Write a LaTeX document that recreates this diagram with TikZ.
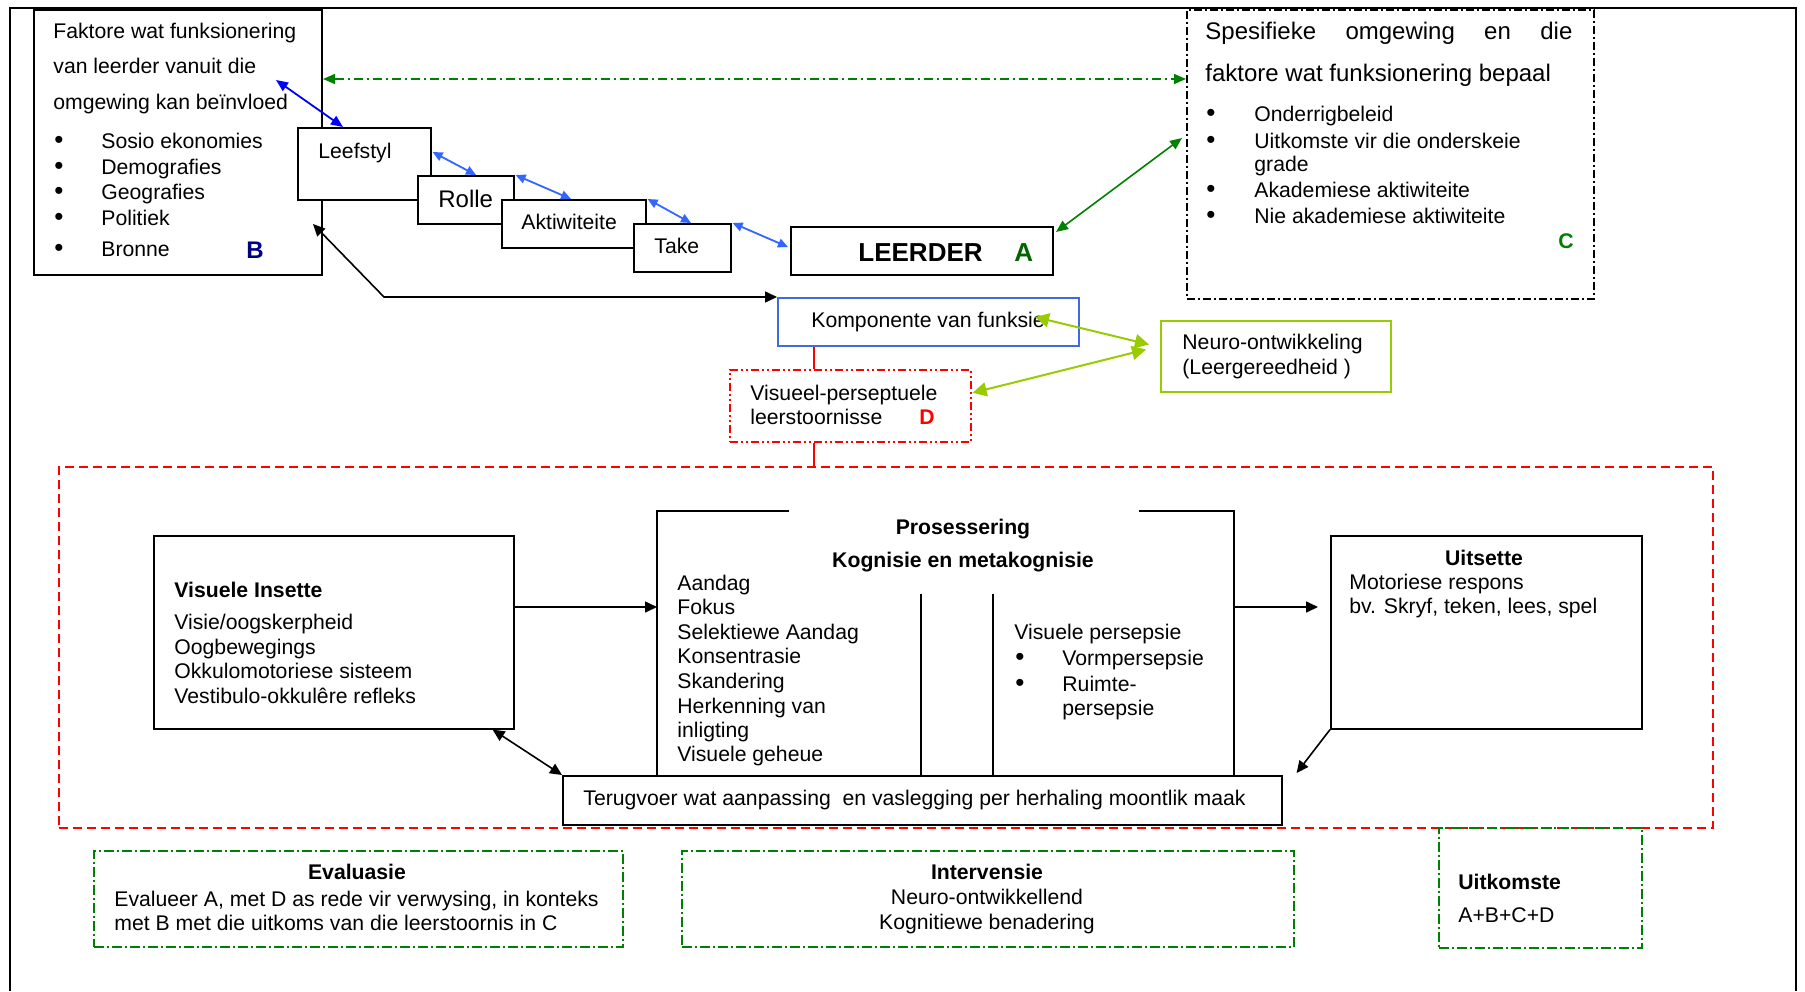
\documentclass[tikz,border=0pt]{standalone}
\usepackage{fontspec}
\setmainfont{Liberation Sans}
\usetikzlibrary{arrows.meta,calc}
\definecolor{grn}{RGB}{0,128,0}
\definecolor{lblue}{RGB}{51,102,255}
\definecolor{kblue}{RGB}{65,105,225}
\definecolor{ygrn}{RGB}{153,204,0}
\definecolor{navyb}{RGB}{0,0,128}
\definecolor{dgrn}{RGB}{0,100,0}
\newcommand{\myfn}{\fontsize{10.6pt}{12.7pt}\selectfont}
\newcommand{\myfl}{\fontsize{12pt}{14pt}\selectfont}
\newcommand{\mybul}{{\fontsize{13pt}{14pt}\selectfont •}}
\tikzset{
  box/.style={draw, line width=0.8pt, fill=white, inner sep=0pt, anchor=north west, rectangle},
  t/.style={anchor=base west, inner sep=0pt, font=\myfn},
  tc/.style={anchor=base, inner sep=0pt, font=\myfn},
  tb/.style={t, font=\myfn\bfseries},
  tcb/.style={tc, font=\myfn\bfseries},
  dashC/.style={dash pattern=on 4pt off 1.5pt on 1pt off 1.5pt},
  dashD/.style={dash pattern=on 4pt off 1.5pt on 1pt off 1.5pt on 1pt off 1.5pt},
  dashG/.style={dash pattern=on 4.5pt off 2pt on 1pt off 2pt},
  dashE/.style={dash pattern=on 5pt off 1.5pt on 1pt off 1.5pt},
  barrow/.style={line width=0.8pt, -{Triangle[length=6pt,width=5.5pt]}},
  barrowtwo/.style={line width=0.8pt, {Triangle[length=6pt,width=5.5pt]}-{Triangle[length=6pt,width=5.5pt]}},
  bluearrow/.style={blue, line width=0.9pt, {Triangle[length=6pt,width=5pt]}-{Triangle[length=6pt,width=5pt]}},
  lbarrow/.style={lblue, line width=0.9pt, {Triangle[length=5pt,width=4.5pt]}-{Triangle[length=5pt,width=4.5pt]}},
  garrow/.style={grn, line width=0.8pt, {Triangle[length=6pt,width=5pt]}-{Triangle[length=6pt,width=5pt]}},
  yarrow/.style={ygrn, line width=1pt, {Triangle[length=7pt,width=7pt]}-{Triangle[length=7pt,width=7pt]}},
}
\begin{document}
\begin{tikzpicture}[x=0.5pt,y=-0.5pt]
\useasboundingbox (0,0) rectangle (1805,991);
% outer frame
\draw[line width=0.8pt] (10,991) -- (10,8) -- (1796,8) -- (1796,991);

% ---- Box B
\node[box, line width=1pt, minimum width=144pt, minimum height=132.5pt] (B) at (33,9) {};
\node[t] (b1) at (53,38) {Faktore wat funksionering};
\node[t] (b2) at (53,73) {van leerder vanuit die};
\node[t] (b3) at (53,109) {omgewing kan beïnvloed};
\foreach \y/\s [count=\i] in {148/Sosio ekonomies, 174/Demografies, 199/Geografies, 225/Politiek, 256/Bronne}{
  \node[t] (bb\i) at (54,\y) {\mybul};
  \node[t] (bt\i) at (101,\y) {\s};
}
\node[t, font=\myfl\bfseries, text=navyb] (Blab) at (246,258) {B};

% ---- staircase
\node[box, minimum width=66.5pt, minimum height=36pt] (LS) at (297,127) {};
\node[t] (LSt) at (318,158) {Leefstyl};
\node[box, minimum width=48pt, minimum height=24pt] (RO) at (417,175) {};
\node[t, font=\myfl] (ROt) at (438,207) {Rolle};
\node[box, minimum width=72pt, minimum height=24pt] (AK) at (501,199) {};
\node[t] (AKt) at (521,229) {Aktiwiteite};
\node[box, minimum width=48.5pt, minimum height=24pt] (TA) at (633,223) {};
\node[t] (TAt) at (654,253) {Take};

% ---- LEERDER
\node[box, line width=1pt, minimum width=131pt, minimum height=24pt] (A) at (790,226) {};
\node[t, font=\fontsize{13pt}{15pt}\selectfont\bfseries] (At) at (858,261) {LEERDER};
\node[t, font=\fontsize{13pt}{15pt}\selectfont\bfseries, text=dgrn] (Alab) at (1014,261) {A};

% ---- Box C
\node[box, dashC, minimum width=203.5pt, minimum height=144.5pt] (C) at (1186,9) {};
\node[t, font=\myfl] (c1) at (1205,39) {\hbox to 183.5pt{Spesifieke\hfill omgewing\hfill en\hfill die}};
\node[t, font=\myfl] (c2) at (1205,81) {faktore wat funksionering bepaal};
\foreach \y/\s [count=\i] in {121/Onderrigbeleid, 148/Uitkomste vir die onderskeie, 197/Akademiese aktiwiteite, 223/Nie akademiese aktiwiteite}{
  \node[t] (cb\i) at (1206,\y) {\mybul};
  \node[t] (ct\i) at (1254,\y) {\s};
}
\node[t] (ct5) at (1254,171) {grade};
\node[tb, text=grn] (Clab) at (1558,248) {C};

% ---- Komponente, Neuro, D
\node[box, draw=kblue, minimum width=150.5pt, minimum height=24pt] (K) at (777,297) {};
\node[t] (Kt) at (811,327) {Komponente van funksie};
\node[box, draw=ygrn, line width=1pt, minimum width=115pt, minimum height=35.5pt] (N) at (1160,320) {};
\node[t] (Nt1) at (1182,349) {Neuro-ontwikkeling};
\node[t] (Nt2) at (1182,374) {(Leergereedheid )};
\node[box, draw=red, dashD, minimum width=120.5pt, minimum height=36pt] (D) at (729,369) {};
\node[t] (Dt1) at (750,400) {Visueel-perseptuele};
\node[t] (Dt2) at (750,424) {leerstoornisse};
\node[tb, text=red] (Dlab) at (919,424) {D};

% ---- big red dashed box
\node[box, draw=red, fill=none, line width=0.9pt, dash pattern=on 4.5pt off 2.5pt, minimum width=827pt, minimum height=180.5pt] (R) at (58,466) {};

% ---- Visuele Insette
\node[box, minimum width=180pt, minimum height=96.5pt] (VI) at (153,535) {};
\node[tb] (VIt0) at (174,597) {Visuele Insette};
\node[t] (VIt1) at (174,629) {Visie/oogskerpheid};
\node[t] (VIt2) at (174,654) {Oogbewegings};
\node[t] (VIt3) at (174,678) {Okkulomotoriese sisteem};
\node[t] (VIt4) at (174,703) {Vestibulo-okkulêre refleks};

% ---- Prosessering
\node[inner sep=0pt, anchor=north west, minimum width=288pt, minimum height=132pt] (P) at (657,511) {};
\draw[line width=0.8pt] ($(P.north west)+(132,0)$) -- (P.north west) -- (P.south west);
\draw[line width=0.8pt] ($(P.north east)+(-95,0)$) -- (P.north east) -- (P.south east);
\draw[line width=0.8pt] ($(P.north west)+(264,83)$) -- ($(P.south west)+(264,0)$);
\draw[line width=0.8pt] ($(P.north west)+(336,83)$) -- ($(P.south west)+(336,0)$);
\node[tcb] (Pt1) at (963,534) {Prosessering};
\node[tcb] (Pt2) at (963,567) {Kognisie en metakognisie};
\foreach \y/\s [count=\i] in {590/Aandag, 614/Fokus, 639/Selektiewe Aandag, 663/Konsentrasie, 688/Skandering, 713/Herkenning van, 737/inligting, 761/Visuele geheue}{
  \node[t] (pl\i) at (677,\y) {\s};
}
\node[t] (pr0) at (1014,639) {Visuele persepsie};
\node[t] (prb1) at (1015,665) {\mybul};
\node[t] (prb2) at (1015,691) {\mybul};
\node[t] (pr1) at (1062,665) {Vormpersepsie};
\node[t] (pr2) at (1062,691) {Ruimte-};
\node[t] (pr3) at (1062,715) {persepsie};

% ---- Uitsette
\node[box, minimum width=155.5pt, minimum height=96.5pt] (U) at (1330,535) {};
\node[tcb] (Ut0) at (1484,565) {Uitsette};
\node[t] (Ut1) at (1349,589) {Motoriese respons};
\node[t] (Ut2) at (1349,613) {bv. Skryf, teken, lees, spel};

% ---- Terugvoer
\node[box, minimum width=359.5pt, minimum height=24.5pt] (T) at (562,775) {};
\node[t] (Tt) at (583,805) {Terugvoer wat aanpassing\ \ en vaslegging per herhaling moontlik maak};

% ---- bottom green boxes
\node[box, draw=grn, dashE, minimum width=264.5pt, minimum height=48pt] (E) at (93,850) {};
\node[tcb] (Et0) at (357,879) {Evaluasie};
\node[t] (Et1) at (114,906) {Evalueer A, met D as rede vir verwysing, in konteks};
\node[t] (Et2) at (114,930) {met B met die uitkoms van die leerstoornis in C};
\node[box, draw=grn, dashE, minimum width=306pt, minimum height=48pt] (I) at (681,850) {};
\node[tcb] (It0) at (987,879) {Intervensie};
\node[tc] (It1) at (987,904) {Neuro-ontwikkellend};
\node[tc] (It2) at (987,929) {Kognitiewe benadering};
\node[box, draw=grn, dashE, fill=none, minimum width=101.5pt, minimum height=60pt] (UK) at (1438,827) {};
\node[tb] (UKt0) at (1458,889) {Uitkomste};
\node[t] (UKt1) at (1458,922) {A+B+C+D};

% ---- connectors
\draw[garrow, dashG] ($(B.north east)+(0,70)$) -- ($(C.north west)+(0,70)$);
\draw[bluearrow] ($(B.north west)+(243,71)$) -- ($(LS.north west)+(46,0)$);
\draw[lbarrow] ($(LS.north east)+(1,25)$) -- ($(RO.north west)+(59,0)$);
\draw[lbarrow] ($(RO.north east)+(1,0)$) -- ($(AK.north west)+(70,0)$);
\draw[lbarrow] ($(AK.north east)+(1,0)$) -- ($(TA.north west)+(58,0)$);
\draw[lbarrow] ($(TA.north east)+(1,0)$) -- ($(A.north west)+(-2,21)$);
\draw[garrow] ($(A.north east)+(2,6)$) -- ($(C.north west)+(-4,129)$);
\draw[barrowtwo] ($(B.north east)+(-10,215)$) -- ($(B.north east)+(61,288)$) -- (K.north west);
\draw[yarrow] ($(K.north west)+(258,20)$) -- ($(N.west)+(-11,-12)$);
\draw[yarrow] ($(N.west)+(-14,-7)$) -- ($(D.east)+(1,-13)$);
\draw[red, line width=0.8pt] ($(K.south west)+(37,0)$) -- ($(D.north west)+(85,0)$);
\draw[red, line width=0.8pt] ($(D.south west)+(85,0)$) -- ($(R.north west)+(756,0)$);
\draw[barrow] ($(VI.north east)+(0,72)$) -- ($(P.north west)+(0,96)$);
\draw[barrow] ($(P.north east)+(0,96)$) -- ($(U.north west)+(-12,72)$);
\draw[barrow] (U.south west) -- ($(T.north east)+(14,-2)$);
\draw[barrowtwo] ($(VI.south east)+(-22,0)$) -- (T.north west);
\end{tikzpicture}
\end{document}
